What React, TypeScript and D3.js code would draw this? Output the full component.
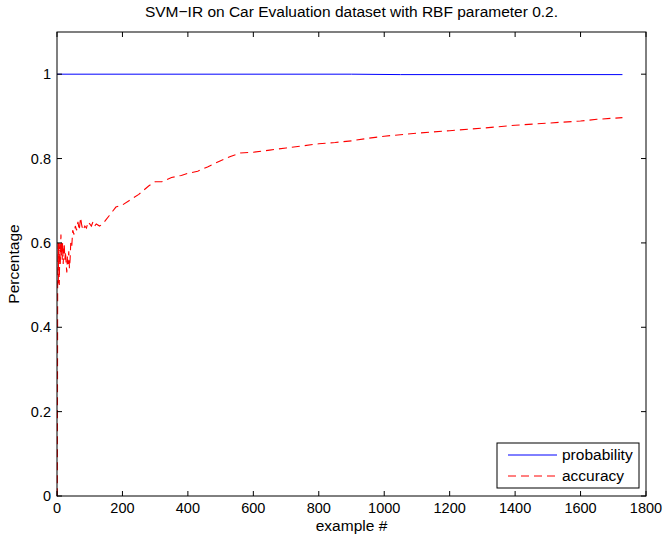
import React from "react";
import * as d3 from "d3";

const title = "SVM\u2212IR on Car Evaluation dataset with RBF parameter 0.2.";
const xLabel = "example #";
const yLabel = "Percentage";
const xTicks = [0, 200, 400, 600, 800, 1000, 1200, 1400, 1600, 1800];
const yTicks = [0, 0.2, 0.4, 0.6, 0.8, 1];
const yTickLabels = ["0", "0.2", "0.4", "0.6", "0.8", "1"];

const probN = [0, 900, 1050, 1728];
const probV = [1, 1, 0.999, 0.999];

const accN = [0, 1, 2, 3, 4, 5, 6, 7, 8, 9, 10, 11, 12, 13, 14, 15, 16, 17, 18, 19, 20, 22, 24, 26, 28, 30, 32, 34, 36, 38, 40, 42, 45, 48, 52, 56, 60, 64, 68, 72, 76, 80, 85, 90, 95, 100, 105, 110, 115, 120, 130, 140, 150, 160, 170, 180, 200, 220, 250, 280, 300, 320, 350, 380, 400, 430, 460, 500, 530, 560, 600, 650, 700, 750, 800, 850, 900, 950, 1000, 1100, 1200, 1300, 1400, 1500, 1600, 1650, 1728];
const accV = [0, 0, 0.5, 0.6, 0.5, 0.6, 0.57, 0.5, 0.56, 0.6, 0.55, 0.58, 0.62, 0.6, 0.57, 0.6, 0.56, 0.6, 0.58, 0.55, 0.57, 0.6, 0.56, 0.58, 0.55, 0.53, 0.57, 0.55, 0.58, 0.54, 0.56, 0.6, 0.59, 0.63, 0.62, 0.64, 0.63, 0.65, 0.63, 0.66, 0.64, 0.63, 0.64, 0.635, 0.65, 0.645, 0.64, 0.65, 0.64, 0.645, 0.64, 0.645, 0.655, 0.665, 0.675, 0.685, 0.69, 0.7, 0.715, 0.735, 0.745, 0.745, 0.755, 0.76, 0.765, 0.77, 0.78, 0.795, 0.805, 0.813, 0.815, 0.82, 0.825, 0.83, 0.835, 0.838, 0.842, 0.848, 0.853, 0.86, 0.866, 0.872, 0.879, 0.884, 0.889, 0.893, 0.897];

const W = 667;
const H = 538;
const L = 57, R = 646, T = 32, B = 496;
const FONT = "'Liberation Sans', Arial, Helvetica, sans-serif";

export default function App() {
  const x = d3.scaleLinear().domain([0, 1800]).range([L, R]);
  const y = d3.scaleLinear().domain([0, 1.1]).range([B, T]);
  const line = d3.line<[number, number]>().x((d) => x(d[0])).y((d) => y(d[1]));
  const prob = probN.map((n, i) => [n, probV[i]] as [number, number]);
  const acc = accN.map((n, i) => [n, accV[i]] as [number, number]);
  const tk = 5;
  const lx = 497, ly = 443, lw = 142, lh = 45;
  return (
    <svg width={W} height={H} style={{ position: "absolute", left: 0, top: 0, background: "#fff" }} fontFamily={FONT}>
      <rect x={0} y={0} width={W} height={H} fill="#fff" />
      <path d={line(prob) || ""} fill="none" stroke="#0000ff" strokeWidth={1} />
      <path d={line(acc) || ""} fill="none" stroke="#ff0000" strokeWidth={1.1} strokeDasharray="8,5" />
      <rect x={L} y={T} width={R - L} height={B - T} fill="none" stroke="#000" strokeWidth={1} />
      {xTicks.map((t) => (
        <g key={"x" + t}>
          <line x1={x(t)} x2={x(t)} y1={B} y2={B - tk} stroke="#000" />
          <line x1={x(t)} x2={x(t)} y1={T} y2={T + tk} stroke="#000" />
          <text x={x(t)} y={B + 17} textAnchor="middle" fontSize={14.5}>{t}</text>
        </g>
      ))}
      {yTicks.map((t, i) => (
        <g key={"y" + t}>
          <line x1={L} x2={L + tk} y1={y(t)} y2={y(t)} stroke="#000" />
          <line x1={R} x2={R - tk} y1={y(t)} y2={y(t)} stroke="#000" />
          <text x={L - 6} y={y(t) + 5} textAnchor="end" fontSize={14.5}>{yTickLabels[i]}</text>
        </g>
      ))}
      <text x={(L + R) / 2} y={17} textAnchor="middle" fontSize={15.5}>{title}</text>
      <text x={(L + R) / 2} y={531} textAnchor="middle" fontSize={15.5}>{xLabel}</text>
      <text transform={`translate(19,${(T + B) / 2}) rotate(-90)`} textAnchor="middle" fontSize={15.5}>{yLabel}</text>
      <rect x={lx} y={ly} width={lw} height={lh} fill="#fff" stroke="#000" strokeWidth={1} />
      <line x1={508} x2={557} y1={455} y2={455} stroke="#0000ff" />
      <line x1={508} x2={557} y1={476} y2={476} stroke="#ff0000" strokeDasharray="8,5" />
      <text x={562} y={460} fontSize={15.5}>probability</text>
      <text x={562} y={481} fontSize={15.5}>accuracy</text>
    </svg>
  );
}
